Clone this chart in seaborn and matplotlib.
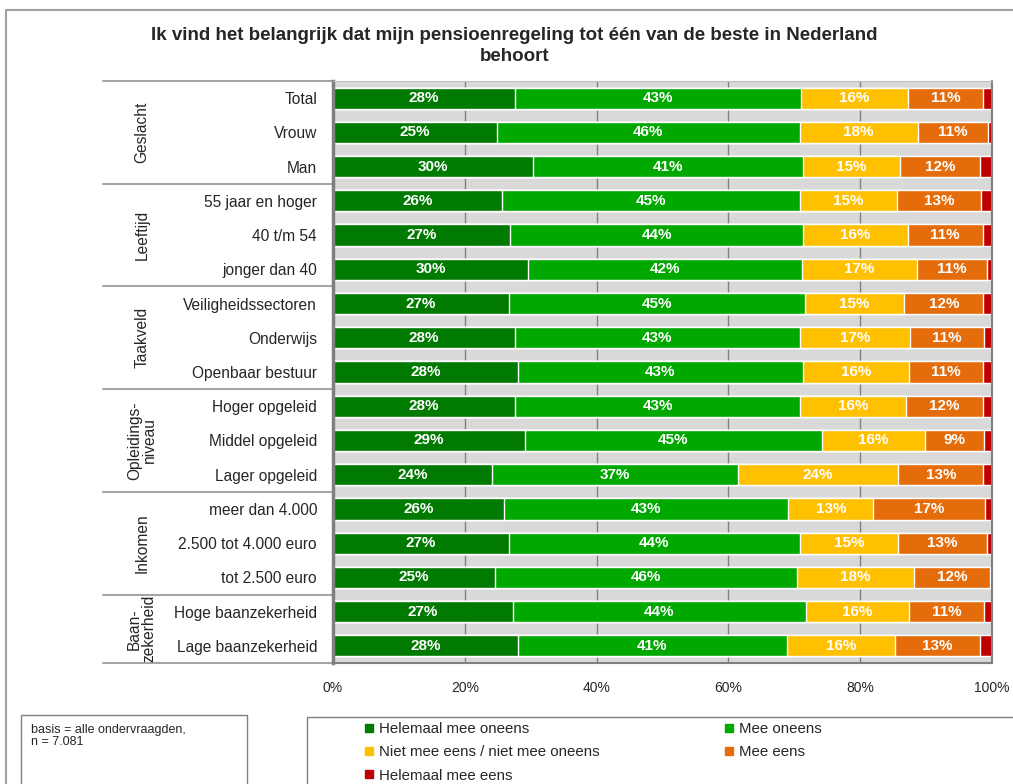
import pandas as pd
import matplotlib.pyplot as plt
import seaborn as sns
from matplotlib.patches import Rectangle
from matplotlib.lines import Line2D

# Categorieen (van boven naar beneden)
rows = ['Total', 'Vrouw', 'Man',
        '55 jaar en hoger', '40 t/m 54', 'jonger dan 40',
        'Veiligheidssectoren', 'Onderwijs', 'Openbaar bestuur',
        'Hoger opgeleid', 'Middel opgeleid', 'Lager opgeleid',
        'meer dan 4.000', '2.500 tot 4.000 euro', 'tot 2.500 euro',
        'Hoge baanzekerheid', 'Lage baanzekerheid']
groups = ['Geslacht', 'Leeftijd', 'Taakveld', 'Opleidings-\nniveau', 'Inkomen', 'Baan-\nzekerheid']
group_sizes = [3, 3, 3, 3, 3, 2]

series = ['Helemaal mee oneens', 'Mee oneens', 'Niet mee eens / niet mee oneens',
          'Mee eens', 'Helemaal mee eens']

helemaal_oneens = [27.6, 24.9, 30.3, 25.6, 26.9, 29.6, 26.7, 27.6, 28.0, 27.6, 29.1, 24.2, 26.0, 26.7, 24.6, 27.3, 28.0]
mee_oneens = [43.4, 45.9, 41.0, 45.2, 44.4, 41.6, 44.9, 43.2, 43.3, 43.3, 45.1, 37.2, 43.1, 44.1, 45.8, 44.4, 40.9]
neutraal = [16.3, 17.9, 14.8, 14.8, 15.9, 17.4, 15.1, 16.8, 16.1, 16.0, 15.6, 24.4, 12.9, 15.0, 17.7, 15.7, 16.4]
mee_eens = [11.4, 10.7, 12.1, 12.7, 11.4, 10.7, 12.0, 11.2, 11.3, 11.8, 9.0, 12.9, 17.0, 13.4, 11.6, 11.4, 12.9]
helemaal_eens = [1.3, 0.6, 1.8, 1.7, 1.4, 0.7, 1.3, 1.2, 1.3, 1.3, 1.2, 1.3, 1.0, 0.8, 0.3, 1.2, 1.8]

colors = ['#007A00', '#00A800', '#FFC000', '#E46C0A', '#C00000']

df = pd.DataFrame({'label': rows,
                   series[0]: helemaal_oneens, series[1]: mee_oneens,
                   series[2]: neutraal, series[3]: mee_eens, series[4]: helemaal_eens})
cum = df[series].cumsum(axis=1)

sns.set_style('white')
plt.rcParams['font.family'] = ['Liberation Sans', 'DejaVu Sans']

fig = plt.figure(figsize=(10.13, 7.84), dpi=100)
ax = fig.add_axes([333 / 1013, 1 - 663 / 784, 659 / 1013, 582 / 784])
ax.set_facecolor('#D9D9D9')
ax.grid(axis='x', color='#808080', lw=1)
ax.set_axisbelow(True)

# gestapelde balken: cumulatief van achter naar voren tekenen
for i in range(len(series) - 1, -1, -1):
    sns.barplot(x=cum[series[i]], y=df['label'], orient='y', color=colors[i],
                width=0.62, edgecolor='white', linewidth=1, saturation=1, ax=ax)

# labels in de balken
for r in range(len(rows)):
    start = 0
    for i in range(4):
        v = df.loc[r, series[i]]
        ax.text(start + v / 2, r, f'{round(v)}%', ha='center', va='center',
                color='white', fontsize=11, fontweight='bold')
        start += v

ax.set_xlim(0, 100)
ax.set_ylim(16.5, -0.5)
ax.set_xticks([0, 20, 40, 60, 80, 100])
ax.set_xticklabels(['0%', '20%', '40%', '60%', '80%', '100%'], fontsize=10)
ax.tick_params(axis='x', length=0, pad=13)
ax.tick_params(axis='y', length=0, pad=11.5, labelsize=11.2)
ax.set_xlabel('')
ax.set_ylabel('')
for s in ['left', 'right', 'bottom']:
    ax.spines[s].set_color('#808080')
    ax.spines[s].set_linewidth(1.5)
ax.spines['left'].set_linewidth(2.5)
ax.spines['top'].set_color('#BFBFBF')

# groepen links
tr = ax.get_yaxis_transform()
pos = -0.5
for g, n in zip(groups, group_sizes):
    ax.plot([-0.349, 0], [pos, pos], color='#A6A6A6', lw=1.5, transform=tr, clip_on=False)
    ax.text(-0.29, pos + n / 2, g, rotation=90, ha='center', va='center',
            fontsize=11.2, transform=tr, linespacing=0.95)
    pos += n
ax.plot([-0.349, 0], [pos, pos], color='#A6A6A6', lw=1.5, transform=tr, clip_on=False)

# titel
fig.text(0.508, 1 - 27 / 784, 'Ik vind het belangrijk dat mijn pensioenregeling tot één van de beste in Nederland\nbehoort',
         ha='center', va='top', fontsize=13.5, fontweight='bold', linespacing=1.3)

# kaders
fig.patches.append(Rectangle((6 / 1013, -0.05), 1.1, 1 - 10 / 784 + 0.05, transform=fig.transFigure,
                             fill=False, edgecolor='#A0A0A0', lw=1.5))
fig.patches.append(Rectangle((21 / 1013, -0.05), 226 / 1013, 1 - 715 / 784 + 0.05, transform=fig.transFigure,
                             fill=False, edgecolor='#808080', lw=1))
fig.patches.append(Rectangle((307 / 1013, -0.05), 0.8, 1 - 717 / 784 + 0.05, transform=fig.transFigure,
                             fill=False, edgecolor='#808080', lw=1))
fig.text(31 / 1013, 1 - 724 / 784, 'basis = alle ondervraagden,\nn = 7.081', ha='left', va='top',
         fontsize=9, linespacing=0.95)

# legenda
order = [0, 2, 4, 1, 3]
handles = [Line2D([], [], marker='s', ls='', color=colors[i], markersize=6) for i in order]
fig.legend(handles, [series[i] for i in order], ncol=2, loc='upper left',
           bbox_to_anchor=(364 / 1013, 1 - 722 / 784), frameon=False, fontsize=10.8,
           handlelength=0.6, handletextpad=0.4, columnspacing=8.3, labelspacing=0.62,
           borderpad=0, borderaxespad=0)

fig.savefig('out.png', dpi=100)
